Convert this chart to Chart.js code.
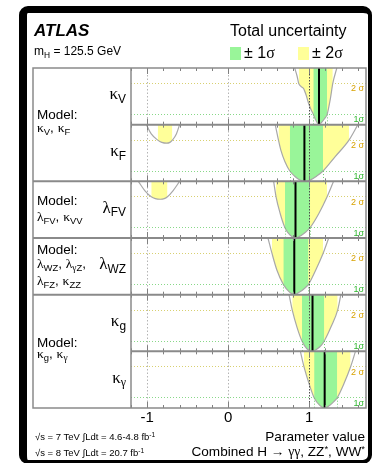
<!DOCTYPE html>
<html>
<head>
<meta charset="utf-8">
<script src="https://cdn.jsdelivr.net/npm/chart.js@4.4.1/dist/chart.umd.min.js"></script>
<style>
  html, body { margin: 0; padding: 0; background: #fff; }
  body { width: 376px; height: 463px; position: relative; overflow: hidden;
         font-family: "Liberation Sans", Arial, sans-serif; color: #000; }
  #wrap { position: absolute; left: 0; top: 0; width: 376px; height: 463px; }
  #frame { position: absolute; left: 19px; top: 6px; width: 353px; height: 458px; box-sizing: border-box;
           border: solid #000; border-width: 7px 4px 4px 8px; border-radius: 9px; }
  .t { position: absolute; white-space: nowrap; line-height: 1; }
  .g { font-family: "Liberation Serif", "DejaVu Serif", serif; }
  .sub { font-size: 0.7em; position: relative; top: 0.3em; font-family: "Liberation Sans", Arial, sans-serif; }
  .sup { font-size: 0.7em; position: relative; top: -0.45em; }
  .box { position: absolute; width: 11px; height: 13px; }
  .model { left: 37px; font-size: 13.5px; }
</style>
</head>
<body>
<div id="wrap"><canvas id="c"></canvas></div>
<div id="frame"></div>

<div class="t" style="left:34px;top:22px;font-size:17px;font-weight:bold;font-style:italic;">ATLAS</div>
<div class="t" style="left:34px;top:45px;font-size:12px;">m<span class="sub">H</span> = 125.5 GeV</div>
<div class="t" style="left:230px;top:23px;font-size:16px;">Total uncertainty</div>
<div class="box" style="left:230px;top:47px;background:#99f599;"></div>
<div class="t" style="left:244px;top:45px;font-size:16px;">± 1<span class="g">σ</span></div>
<div class="box" style="left:298px;top:47px;background:#ffff99;"></div>
<div class="t" style="left:312px;top:45px;font-size:16px;">± 2<span class="g">σ</span></div>

<div class="t model" style="top:108px;">Model:</div>
<div class="t model" style="top:121px;"><span class="g">κ</span><span class="sub">V</span>, <span class="g">κ</span><span class="sub">F</span></div>
<div class="t model" style="top:194px;">Model:</div>
<div class="t model" style="top:210px;"><span class="g">λ</span><span class="sub">FV</span>, <span class="g">κ</span><span class="sub">VV</span></div>
<div class="t model" style="top:243px;">Model:</div>
<div class="t model" style="top:257px;"><span class="g">λ</span><span class="sub">WZ</span>, <span class="g">λ</span><span class="sub"><span class="g">γ</span>Z</span>,</div>
<div class="t model" style="top:274px;"><span class="g">λ</span><span class="sub">FZ</span>, <span class="g">κ</span><span class="sub">ZZ</span></div>
<div class="t model" style="top:336px;">Model:</div>
<div class="t model" style="top:347px;"><span class="g">κ</span><span class="sub">g</span>, <span class="g">κ</span><span class="sub"><span class="g">γ</span></span></div>

<div class="t" style="left:35px;top:432px;font-size:9.5px;">√s = 7 TeV ∫Ldt = 4.6-4.8 fb<span class="sup">-1</span></div>
<div class="t" style="left:35px;top:448px;font-size:9.5px;">√s = 8 TeV ∫Ldt = 20.7 fb<span class="sup">-1</span></div>
<div class="t" style="right:11px;top:430px;font-size:13.6px;">Parameter value</div>
<div class="t" style="right:11px;top:445px;font-size:13.6px;">Combined H → <span class="g">γγ</span>, ZZ<span class="sup">*</span>, WW<span class="sup">*</span></div>

<div id="labels"></div>

<script>
const xMin = -1.2, xMax = 1.7, yMax = 5.5;
const xTicks = [-1, 0, 1];
const sigmaLevels = [1, 4];
const sigmaNames = ['1σ', '2 σ'];
const paramNames = [['κ', 'V'], ['κ', 'F'], ['λ', 'FV'], ['λ', 'WZ'], ['κ', 'g'], ['κ', 'γ']];
const groupStarts = [0, 2, 3, 4];
const bestFit = [1.12, 0.94, 0.83, 0.815, 1.04, 1.19];

// -2 ln Λ curves, [value, -2lnΛ]; null = curve leaves the panel
const curveKV = [[0.82, 5.5], [0.85, 4.7], [0.87, 4.0], [0.90, 3.7], [0.93, 3.5], [0.96, 2.9], [0.99, 2.1],
  [1.02, 1.5], [1.05, 1.0], [1.08, 0.45], [1.12, 0], [1.16, 0.3], [1.19, 0.6], [1.22, 1.0], [1.26, 2.5],
  [1.29, 4.0], [1.34, 5.5]];
const curveKF = [[-1.01, 5.5], [-0.95, 4.6], [-0.87, 4.0], [-0.82, 3.78], [-0.76, 3.7], [-0.72, 3.78],
  [-0.69, 4.0], [-0.64, 4.6], [-0.60, 5.5], null, [0.58, 5.5], [0.62, 4.0], [0.65, 3.0], [0.70, 1.9],
  [0.76, 1.0], [0.82, 0.5], [0.88, 0.15], [0.94, 0], [1.01, 0.12], [1.09, 0.5], [1.17, 1.0], [1.32, 2.4],
  [1.49, 4.0], [1.60, 5.5]];
const curveLFV = [[-1.11, 5.5], [-1.03, 4.6], [-0.95, 4.0], [-0.90, 3.82], [-0.84, 3.76], [-0.79, 3.82],
  [-0.75, 4.0], [-0.68, 4.6], [-0.60, 5.5], null, [0.56, 5.5], [0.59, 4.0], [0.64, 2.4], [0.70, 1.0],
  [0.76, 0.3], [0.83, 0], [0.90, 0.25], [0.96, 0.6], [1.01, 1.0], [1.12, 2.4], [1.22, 4.0], [1.30, 5.5]];
const curveLWZ = [[0.49, 5.5], [0.54, 4.0], [0.60, 2.4], [0.68, 1.0], [0.75, 0.3], [0.815, 0], [0.88, 0.25],
  [0.94, 0.6], [0.99, 1.0], [1.08, 2.4], [1.17, 4.0], [1.24, 5.5]];
const curveKG = [[0.75, 5.5], [0.79, 4.0], [0.85, 2.3], [0.91, 1.0], [0.97, 0.25], [1.04, 0], [1.10, 0.25],
  [1.15, 0.6], [1.185, 1.0], [1.27, 2.4], [1.35, 4.0], [1.39, 5.5]];
const curveKGam = [[0.89, 5.5], [0.935, 4.0], [1.0, 2.3], [1.06, 1.0], [1.13, 0.25], [1.19, 0], [1.25, 0.25],
  [1.30, 0.6], [1.345, 1.0], [1.43, 2.4], [1.51, 4.0], [1.57, 5.5]];
const curves = [curveKV, curveKF, curveLFV, curveLWZ, curveKG, curveKGam];

const GREEN = '#99f599';
const YELLOW = '#ffff99';

function toPoints(curve) {
  return curve.map((p, i) => p ? { x: p[0], y: p[1] }
    : { x: (curve[i - 1][0] + curve[i + 1][0]) / 2, y: null });
}

// stretches of the curve at or below a level, one array per stretch
function runsBelow(curve, level) {
  const runs = [];
  let run = [];
  curve.forEach(p => {
    if (p && p[1] <= level + 1e-9) {
      run.push({ x: p[0], y: p[1] });
    } else {
      if (run.length > 1) runs.push(run);
      run = [];
    }
  });
  if (run.length > 1) runs.push(run);
  return runs;
}

const datasets = [];
curves.forEach((curve, i) => {
  const yAxisID = 'y' + i;
  datasets.push({ data: [{ x: bestFit[i], y: 0 }, { x: bestFit[i], y: yMax }], yAxisID,
    borderColor: '#000', borderWidth: 2, pointRadius: 0, fill: false, order: 1 });
  datasets.push({ data: toPoints(curve), yAxisID, borderColor: '#a8a8a8', borderWidth: 1.2,
    pointRadius: 0, fill: false, cubicInterpolationMode: 'monotone', order: 2 });
  runsBelow(curve, 1).forEach(run => datasets.push({ data: run, yAxisID, borderColor: 'rgba(0,0,0,0)',
    borderWidth: 0, pointRadius: 0, backgroundColor: GREEN, fill: 'end', cubicInterpolationMode: 'monotone', order: 3 }));
  runsBelow(curve, 4).forEach(run => datasets.push({ data: run, yAxisID, borderColor: 'rgba(0,0,0,0)',
    borderWidth: 0, pointRadius: 0, backgroundColor: YELLOW, fill: 'end', cubicInterpolationMode: 'monotone', order: 4 }));
});

const scales = {
  x: {
    type: 'linear', position: 'bottom', min: xMin, max: xMax,
    afterBuildTicks: s => { s.ticks = xTicks.map(v => ({ value: v })); },
    ticks: { color: '#000', padding: 1, maxRotation: 0, autoSkip: false,
      font: { family: '"Liberation Sans", Arial, sans-serif', size: 15 } },
    grid: { drawTicks: false, lineWidth: 1,
      color: c => (c.tick && c.tick.value === 1) ? 'rgba(0,0,0,0)' : '#b4b4b4' },
    border: { display: false, dash: [1.5, 2] },
    afterFit: s => { s.height = 30; }
  }
};
curves.forEach((c, i) => {
  scales['y' + i] = {
    type: 'linear', position: 'right', stack: 'panels', stackWeight: 1, min: 0, max: yMax,
    afterBuildTicks: s => { s.ticks = sigmaLevels.map(v => ({ value: v })); },
    ticks: { display: false },
    grid: { drawTicks: false, lineWidth: 1,
      color: t => (t.tick && t.tick.value === 1) ? '#88d888' : '#d8d070' },
    border: { display: false, dash: [1, 2] },
    afterFit: s => { s.width = 0; }
  };
});

function seg(ctx, x0, y0, x1, y1) {
  ctx.beginPath();
  ctx.moveTo(x0, y0);
  ctx.lineTo(x1, y1);
  ctx.stroke();
}

const panelPlugin = {
  id: 'panels',
  afterDatasetsDraw(chart) {
    const { ctx, chartArea: a } = chart;
    const xs = chart.scales.x;
    const boxLeft = 33;
    ctx.save();

    // SM value
    ctx.strokeStyle = '#505050';
    ctx.lineWidth = 1;
    ctx.setLineDash([1.5, 1.5]);
    const xsm = Math.round(xs.getPixelForValue(1)) + 0.5;
    seg(ctx, xsm, a.top, xsm, a.bottom);

    curves.forEach((curve, i) => {
      const ys = chart.scales['y' + i];
      // 1 sigma edges
      ctx.strokeStyle = '#70cc70';
      ctx.setLineDash([1, 2]);
      runsBelow(curve, 1).forEach(run => [run[0], run[run.length - 1]].forEach(p => {
        const px = Math.round(xs.getPixelForValue(p.x)) + 0.5;
        seg(ctx, px, ys.getPixelForValue(1), px, ys.bottom);
      }));
      ctx.setLineDash([]);

      // sigma labels
      ctx.font = '9px "Liberation Sans", Arial, sans-serif';
      ctx.textAlign = 'right';
      ctx.textBaseline = 'top';
      sigmaLevels.forEach((lv, k) => {
        ctx.fillStyle = k ? '#d8a200' : '#30b830';
        ctx.fillText(sigmaNames[k], a.right - 2, ys.getPixelForValue(lv) + 1);
      });

      // ticks on both edges of each panel
      ctx.strokeStyle = '#808080';
      ctx.lineWidth = 1;
      for (let k = Math.ceil(xMin * 5); k <= Math.floor(xMax * 5); k++) {
        const px = Math.round(xs.getPixelForValue(k / 5)) + 0.5;
        const len = k % 5 === 0 ? 6 : 3;
        seg(ctx, px, ys.top, px, ys.top + len);
        seg(ctx, px, ys.bottom, px, ys.bottom - len);
      }
    });

    // separators between panels
    ctx.strokeStyle = '#8a8a8a';
    ctx.lineWidth = 2;
    for (let i = 1; i < curves.length; i++) {
      const y = chart.scales['y' + i].top;
      seg(ctx, groupStarts.includes(i) ? boxLeft : a.left, y, a.right, y);
    }
    ctx.lineWidth = 1.5;
    ctx.strokeRect(boxLeft, a.top, a.right - boxLeft, a.bottom - a.top);
    seg(ctx, a.left, a.top, a.left, a.bottom);
    ctx.restore();
  }
};

const chart = new Chart(document.getElementById('c'), {
  type: 'line',
  data: { datasets },
  options: {
    responsive: true,
    maintainAspectRatio: false,
    animation: false,
    layout: { padding: { left: 131, top: 68, right: 10, bottom: 25 } },
    plugins: { legend: { display: false }, tooltip: { enabled: false } },
    scales
  },
  plugins: [panelPlugin]
});

// parameter names, centred on their panels
const labels = document.getElementById('labels');
paramNames.forEach((n, i) => {
  const ys = chart.scales['y' + i];
  const c = (ys.top + ys.bottom) / 2;
  const d = document.createElement('div');
  d.className = 't';
  d.style.right = '250px';
  d.style.top = (c - 11) + 'px';
  d.style.fontSize = '17px';
  const sub = n[1] === 'γ' ? '<span class="g">γ</span>' : n[1];
  d.innerHTML = `<span class="g">${n[0]}</span><span class="sub">${sub}</span>`;
  labels.appendChild(d);
});
</script>
</body>
</html>
